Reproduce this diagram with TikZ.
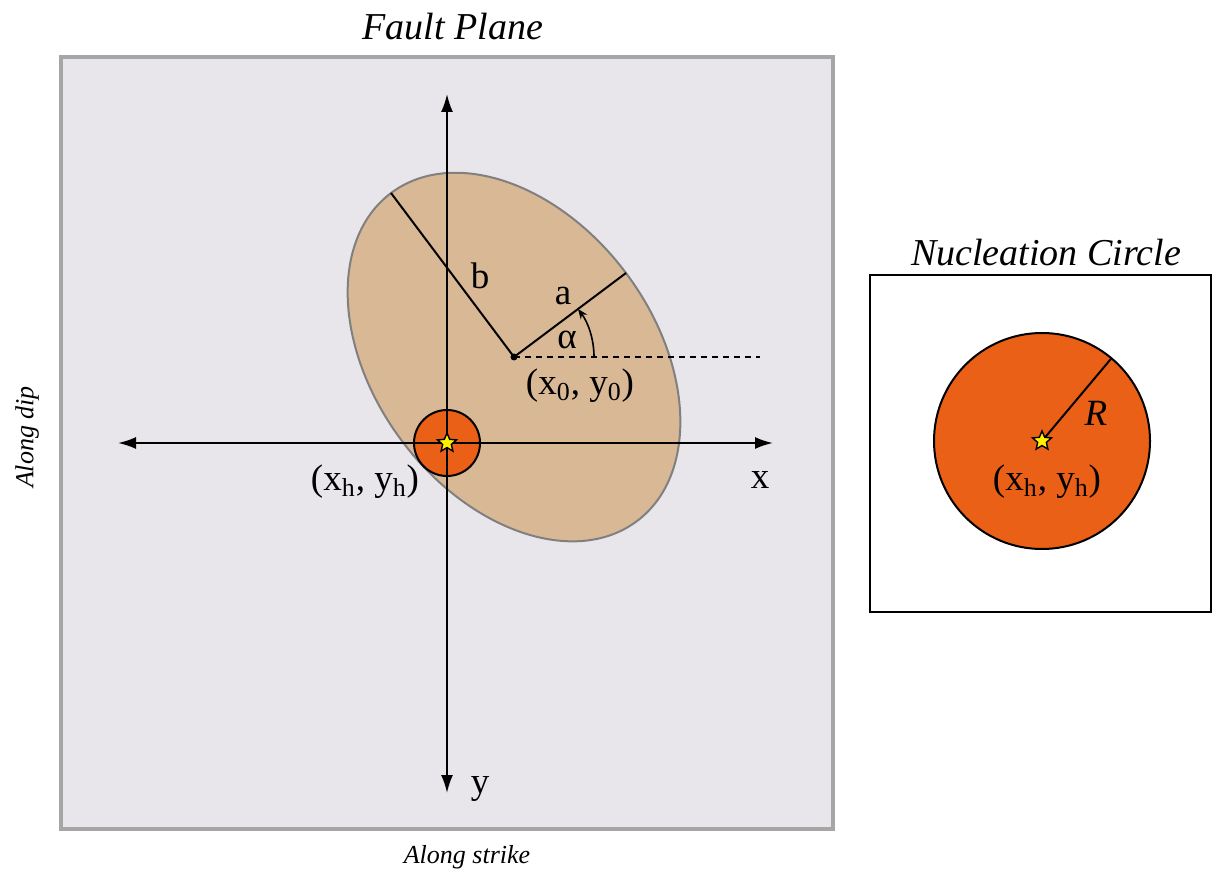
\documentclass[tikz,border=0pt]{standalone}
\usepackage{fontspec}
\setmainfont{Liberation Serif}
\usepackage{tikz}
\usetikzlibrary{arrows.meta,shapes.geometric,calc}
\usepackage{xcolor}

\definecolor{planegray}{HTML}{E8E6EA}
\definecolor{edgegray}{HTML}{A6A6A6}
\definecolor{patchtan}{HTML}{D9B895}
\definecolor{nuclorange}{HTML}{EA6016}

\tikzset{
  axis/.style={line width=1pt, -{Latex[length=9pt,width=6pt]}},
  lbl/.style={font=\fontsize{18.5}{20}\selectfont, inner sep=0pt},
  ttl/.style={font=\fontsize{19}{22}\selectfont\itshape, inner sep=0pt},
  hypo/.style={star, star points=5, star point ratio=2.2, minimum size=10pt,
               inner sep=0pt, fill=yellow, draw=black, line width=0.7pt},
}

\begin{document}
\begin{tikzpicture}[x=0.5pt, y=0.5pt]
    \useasboundingbox (0,0) rectangle (1213,873);

    % --- 1. THE FAULT PLANE ---
    \draw[edgegray, line width=2pt, fill=planegray] (61,816) rectangle (833,44);
    \node[ttl] (fpt) at (453,846) {Fault Plane};
    \node[ttl, font=\fontsize{13}{15}\selectfont\itshape, rotate=90] (dip) at (27,436) {Along dip};
    \node[ttl, font=\fontsize{13}{15}\selectfont\itshape] (strike) at (467,16) {Along strike};

    % Rupture ellipse, a = 140, b = 205, rotated by alpha
    \coordinate (O0) at (514,516);
    \fill[patchtan, draw=gray, line width=1pt, rotate around={36.87:(O0)}]
        (O0) ellipse [x radius=140, y radius=205];

    % semi-axes and the strike direction
    \coordinate (Aend) at ($(O0)+(36.87:140)$);
    \coordinate (Bend) at ($(O0)+(126.87:205)$);
    \coordinate (Dend) at (760,516);
    \draw[line width=1pt] (O0) -- (Aend);
    \draw[line width=1pt] (O0) -- (Bend);
    \draw[line width=0.8pt, dash pattern=on 3pt off 2.5pt] (O0) -- (Dend);
    \draw[line width=0.8pt, -{Stealth[length=5pt,width=4pt]}]
        ($(O0)+(80,0)$) arc[start angle=0, end angle=36.87, radius=80];
    \fill (O0) circle[radius=3.5];

    \node[lbl] (blbl) at (480,597) {b};
    \node[lbl] (albl) at (563,577) {a};
    \node[lbl] (alpha) at (567,533) {α};
    \node[lbl] (ctr) at (580,487) {(x\textsubscript{0}, y\textsubscript{0})};

    % --- 2. AXES ---
    \coordinate (H) at (447,430);
    \coordinate (Xl) at (118,430);
    \coordinate (Xr) at (773,430);
    \coordinate (Yt) at (447,779);
    \coordinate (Yb) at (447,80);
    \draw[axis] (H) -- (Xr);
    \draw[axis] (H) -- (Xl);
    \draw[axis] (H) -- (Yt);
    \draw[axis] (H) -- (Yb);
    \node[lbl] (xlbl) at (760,393) {x};
    \node[lbl] (ylbl) at (480,84) {y};

    % small nucleation patch at the hypocentre
    \filldraw[fill=nuclorange, draw=black, line width=1pt] (H) circle[radius=33];
    \draw[line width=1pt] ($(H)+(0,-33)$) -- ($(H)+(0,33)$);
    \draw[line width=1pt] ($(H)+(-33,0)$) -- ($(H)+(33,0)$);
    \node[hypo] (hs) at (H) {};
    \node[lbl] (hlbl) at (365,391) {(x\textsubscript{h}, y\textsubscript{h})};

    % --- 3. NUCLEATION CIRCLE ---
    \draw[black, line width=0.8pt, fill=white] (870,598) rectangle (1211,261);
    \node[ttl] (nct) at (1046,620) {Nucleation Circle};
    \coordinate (Hn) at (1042,432);
    \filldraw[fill=nuclorange, draw=black, line width=1pt] (Hn) circle[radius=108];
    \coordinate (Rend) at ($(Hn)+(50:108)$);
    \draw[line width=1pt] (Hn) -- (Rend);
    \node[hypo] (hn) at (Hn) {};
    \node[lbl, font=\fontsize{18.5}{20}\selectfont\itshape] (rlbl) at (1096,460) {R};
    \node[lbl] (hnlbl) at (1047,391) {(x\textsubscript{h}, y\textsubscript{h})};

\end{tikzpicture}
\end{document}
